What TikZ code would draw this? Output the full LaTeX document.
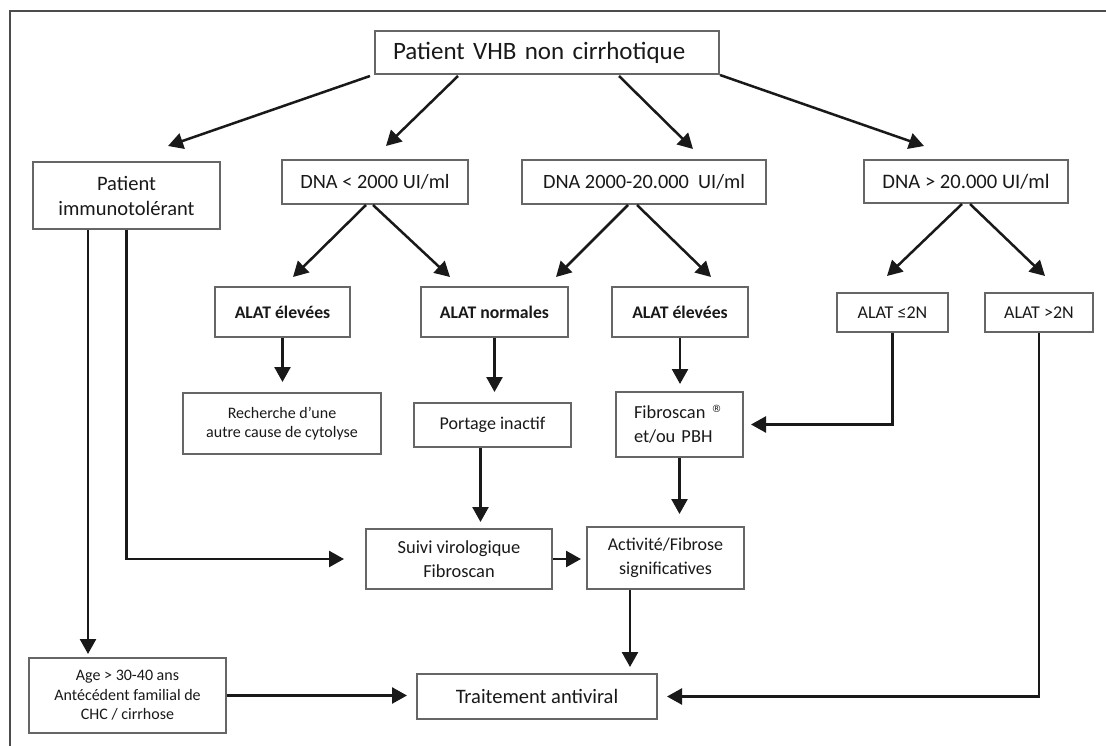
\documentclass[tikz,border=0pt]{standalone}
\usepackage{fontspec}
\setmainfont{Carlito}
\newfontfamily\dejavu{DejaVu Sans}
\usetikzlibrary{arrows.meta, calc}

\begin{document}
\begin{tikzpicture}[x=1pt, y=-1pt,
  caixa/.style={draw=black!60, line width=2, rectangle, inner sep=0pt, align=center, text=black!90},
  seta/.style={draw=black!90, line width=2.5, -{Triangle[length=15,width=16]}},
  fs/.style 2 args={font=\fontsize{#1}{#2}\selectfont},
  fsb/.style 2 args={font=\fontsize{#1}{#2}\selectfont\bfseries}]

\useasboundingbox[fill=white] (0,0) rectangle (1106,746);

% Moldura
\draw[black!70, line width=2.5] (10,746) -- (10,11) -- (1106,11);

% Topo
\node[caixa, fs={25}{30}, minimum height=43, text width=308, inner xsep=18, align=left] (top) at (547,52.5) {Patient VHB non cirrhotique};

% Primeira linha
\node[caixa, fs={20.5}{25}, minimum width=187, minimum height=67] (immuno) at (126.5,195.5) {Patient\\immunotolérant};
\node[caixa, fs={20.3}{24}, minimum width=186, minimum height=44] (dnaA) at (375,182) {DNA < 2000 UI/ml};
\node[caixa, fs={20.3}{24}, minimum width=244, minimum height=44] (dnaB) at (644,182) {DNA 2000-20.000~~UI/ml};
\node[caixa, fs={20.6}{24}, minimum width=204, minimum height=43] (dnaC) at (966,181.5) {DNA > 20.000 UI/ml};

% ALAT
\node[caixa, fsb={17.7}{22}, minimum width=135, minimum height=50] (altA) at (282.5,312) {ALAT élevées};
\node[caixa, fsb={17.7}{22}, minimum width=147, minimum height=50] (alnB) at (494.5,312) {ALAT normales};
\node[caixa, fsb={17.7}{22}, minimum width=136, minimum height=50] (altB) at (680,312) {ALAT élevées};
\node[caixa, fs={18}{22}, minimum width=111, minimum height=39] (alowC) at (892.5,312.5) {ALAT ≤2N};
\node[caixa, fs={18}{22}, minimum width=108, minimum height=39] (ahighC) at (1039,312.5) {ALAT >2N};

% Terceira linha
\node[caixa, fs={16}{19}, minimum width=198, minimum height=61] (recherche) at (282,423.5) {Recherche d’une\\autre cause de cytolyse};
\node[caixa, fs={18}{22}, minimum width=157, minimum height=44] (portage) at (492.5,425) {Portage inactif};
\node[caixa, fs={18.4}{24}, minimum height=65, text width=91, inner xsep=18, align=left] (fibro) at (679.5,424.5) {Fibroscan \raisebox{6pt}{\dejavu\fontsize{10}{10}\selectfont ®}\\et/ou PBH};

% Quarta linha
\node[caixa, fs={18.4}{24}, minimum width=186, minimum height=60] (suivi) at (459,559) {Suivi virologique\\Fibroscan};
\node[caixa, fs={18}{24}, minimum width=157, minimum height=62] (activ) at (665.5,558) {Activité/Fibrose\\significatives};

% Base
\node[caixa, fs={16}{19.5}, minimum width=197, minimum height=75] (age) at (127.5,695.5) {Age > 30-40 ans\\Antécédent familial de\\CHC / cirrhose};
\node[caixa, fs={20.5}{24}, minimum width=240, minimum height=45] (trait) at (537,696.5) {Traitement antiviral};

% Setas do topo
\draw[seta] ($(top.south west)+(-4,1)$) -- ($(immuno.north)+(41.5,-15)$);
\draw[seta] ($(top.south west)+(84,1)$) -- ($(dnaA.north)+(11,-13)$);
\draw[seta] ($(top.south east)+(-101,1)$) -- ($(dnaB.north)+(49,-10)$);
\draw[seta] (top.south east) -- ($(dnaC.north)+(-42,-13)$);

% DNA -> ALAT
\draw[seta] ($(dnaA.south)+(-9,0)$) -- ($(altA.north)+(10.5,-9)$);
\draw[seta] ($(dnaA.south)+(-2,0)$) -- ($(alnB.north)+(-44.5,-9)$);
\draw[seta] ($(dnaB.south)+(-16,0)$) -- ($(alnB.north)+(61.5,-9)$);
\draw[seta] ($(dnaB.south)+(-7,0)$) -- ($(altB.north)+(31,-9)$);
\draw[seta] ($(dnaC.south)+(-4,0)$) -- ($(alowC.north)+(-5.5,-16)$);
\draw[seta] ($(dnaC.south)+(4,0)$) -- ($(ahighC.north)+(6,-16)$);

% ALAT -> exames
\draw[seta, shorten >=10] (altA.south) -- (altA.south |- recherche.north);
\draw[seta, shorten >=10] (alnB.south) -- (alnB.south |- portage.north);
\draw[seta, shorten >=7] (altB.south) -- (altB.south |- fibro.north);
\draw[seta, shorten >=7] (alowC.south) |- (fibro.east);

% Seguimento
\draw[seta, shorten >=6] ([xshift=-12]portage.south) -- ([xshift=-12]portage.south |- suivi.north);
\draw[seta, shorten >=12] (fibro.south) -- (fibro.south |- activ.north);
\draw[seta, shorten >=21] (immuno.south) |- (suivi.west);
\draw[seta, shorten >=3] ([xshift=-38.5]immuno.south) -- ([xshift=-38.5]immuno.south |- age.north);
\draw[seta, shorten >=5] (suivi.east) -- (suivi.east -| activ.west);

% Tratamento
\draw[seta, shorten >=6] ([xshift=-35.5]activ.south) -- ([xshift=-35.5]activ.south |- trait.north);
\draw[seta, shorten >=9] (age.east) -- (age.east -| trait.west);
\draw[seta, shorten >=9] (ahighC.south) |- (trait.east);

\end{tikzpicture}
\end{document}
